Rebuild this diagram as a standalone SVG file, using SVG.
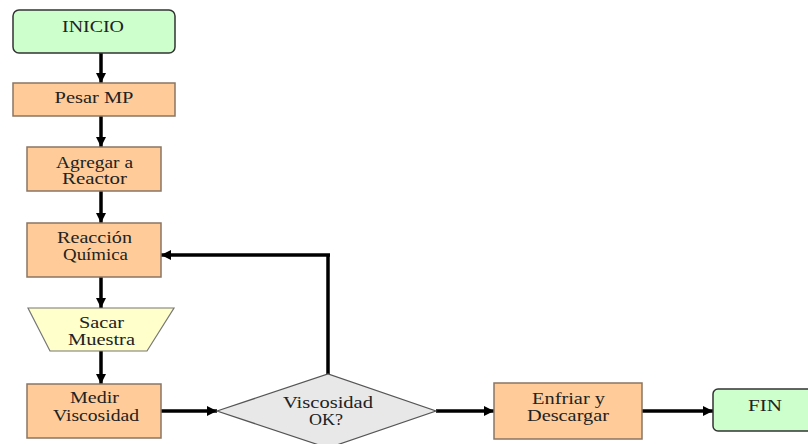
<svg xmlns="http://www.w3.org/2000/svg" width="808" height="444" viewBox="0 0 808 444">
  <defs>
    <marker id="arrow" viewBox="0 0 10 10" refX="10" refY="5" markerWidth="11" markerHeight="10" markerUnits="userSpaceOnUse" orient="auto">
      <path d="M0,0 L10,5 L0,10 Z" fill="#000"/>
    </marker>
    <style>
      .term { fill: #ccffcc; stroke: #333; stroke-width: 1.5; }
      .proc { fill: #ffcc99; stroke: #8a7563; stroke-width: 1.5; }
      .manual { fill: #ffffcc; stroke: #777; stroke-width: 1.2; }
      .dec { fill: #e8e8e8; stroke: #555; stroke-width: 1.2; }
      .lbl { font-family: 'Liberation Serif', 'DejaVu Serif', 'Times New Roman', serif; font-size: 16px; fill: #222; text-anchor: middle; }
      .flow { fill: none; stroke: #000; stroke-width: 3.5; }
    </style>
  </defs>
  <rect width="808" height="444" fill="#fff"/>

  <!-- connectors -->
  <g id="connectors">
    <path class="flow" d="M101,53 V83" marker-end="url(#arrow)"/>
    <path class="flow" d="M101,116 V147" marker-end="url(#arrow)"/>
    <path class="flow" d="M101,191 V223" marker-end="url(#arrow)"/>
    <path class="flow" d="M101,277 V308" marker-end="url(#arrow)"/>
    <path class="flow" d="M101,351 V384" marker-end="url(#arrow)"/>
    <path class="flow" d="M161,411 H217" marker-end="url(#arrow)"/>
    <path class="flow" d="M436,411 H494" marker-end="url(#arrow)"/>
    <path class="flow" d="M642,411 H713" marker-end="url(#arrow)"/>
    <path class="flow" d="M328,374 V255" stroke-width="5"/>
    <path class="flow" d="M330,255 H161" stroke-width="3" marker-end="url(#arrow)"/>
  </g>

  <g id="inicio">
    <rect class="term" x="13" y="10" width="162" height="43" rx="6"/>
    <text class="lbl" font-family="Liberation Serif, DejaVu Serif, serif" x="93" y="32" textLength="62" lengthAdjust="spacingAndGlyphs">INICIO</text>
  </g>

  <g id="pesar">
    <rect class="proc" x="13" y="83" width="162" height="33"/>
    <text class="lbl" font-family="Liberation Serif, DejaVu Serif, serif" x="94" y="103" textLength="79" lengthAdjust="spacingAndGlyphs">Pesar MP</text>
  </g>

  <g id="agregar">
    <rect class="proc" x="27" y="147" width="134" height="44"/>
    <text class="lbl" font-family="Liberation Serif, DejaVu Serif, serif" x="94.5" y="168" textLength="77" lengthAdjust="spacingAndGlyphs">Agregar a</text>
    <text class="lbl" font-family="Liberation Serif, DejaVu Serif, serif" x="94.5" y="184" textLength="65" lengthAdjust="spacingAndGlyphs">Reactor</text>
  </g>

  <g id="reaccion">
    <rect class="proc" x="27" y="223" width="134" height="54"/>
    <text class="lbl" font-family="Liberation Serif, DejaVu Serif, serif" x="94.5" y="243" textLength="75" lengthAdjust="spacingAndGlyphs">Reacción</text>
    <text class="lbl" font-family="Liberation Serif, DejaVu Serif, serif" x="95.5" y="260" textLength="65" lengthAdjust="spacingAndGlyphs">Química</text>
  </g>

  <g id="sacar">
    <polygon class="manual" points="28,308 174,308 147,351 50,351"/>
    <text class="lbl" font-family="Liberation Serif, DejaVu Serif, serif" x="101.5" y="328" textLength="45" lengthAdjust="spacingAndGlyphs">Sacar</text>
    <text class="lbl" font-family="Liberation Serif, DejaVu Serif, serif" x="101.5" y="345" textLength="67" lengthAdjust="spacingAndGlyphs">Muestra</text>
  </g>

  <g id="medir">
    <rect class="proc" x="27" y="384" width="134" height="54"/>
    <text class="lbl" font-family="Liberation Serif, DejaVu Serif, serif" x="94.5" y="403" textLength="49" lengthAdjust="spacingAndGlyphs">Medir</text>
    <text class="lbl" font-family="Liberation Serif, DejaVu Serif, serif" x="96" y="421" textLength="86" lengthAdjust="spacingAndGlyphs">Viscosidad</text>
  </g>

  <g id="decision">
    <polygon class="dec" points="217,411 328,374 436,411 328,448"/>
    <text class="lbl" font-family="Liberation Serif, DejaVu Serif, serif" x="328" y="408" textLength="90" lengthAdjust="spacingAndGlyphs">Viscosidad</text>
    <text class="lbl" font-family="Liberation Serif, DejaVu Serif, serif" x="326" y="425" textLength="34" lengthAdjust="spacingAndGlyphs">OK?</text>
  </g>

  <g id="enfriar">
    <rect class="proc" x="494" y="383" width="148" height="56"/>
    <text class="lbl" font-family="Liberation Serif, DejaVu Serif, serif" x="568.5" y="404" textLength="73" lengthAdjust="spacingAndGlyphs">Enfriar y</text>
    <text class="lbl" font-family="Liberation Serif, DejaVu Serif, serif" x="568" y="421" textLength="82" lengthAdjust="spacingAndGlyphs">Descargar</text>
  </g>

  <g id="fin">
    <rect class="term" x="713" y="389" width="104" height="42" rx="5"/>
    <text class="lbl" font-family="Liberation Serif, DejaVu Serif, serif" x="765" y="411" textLength="34" lengthAdjust="spacingAndGlyphs">FIN</text>
  </g>
</svg>
